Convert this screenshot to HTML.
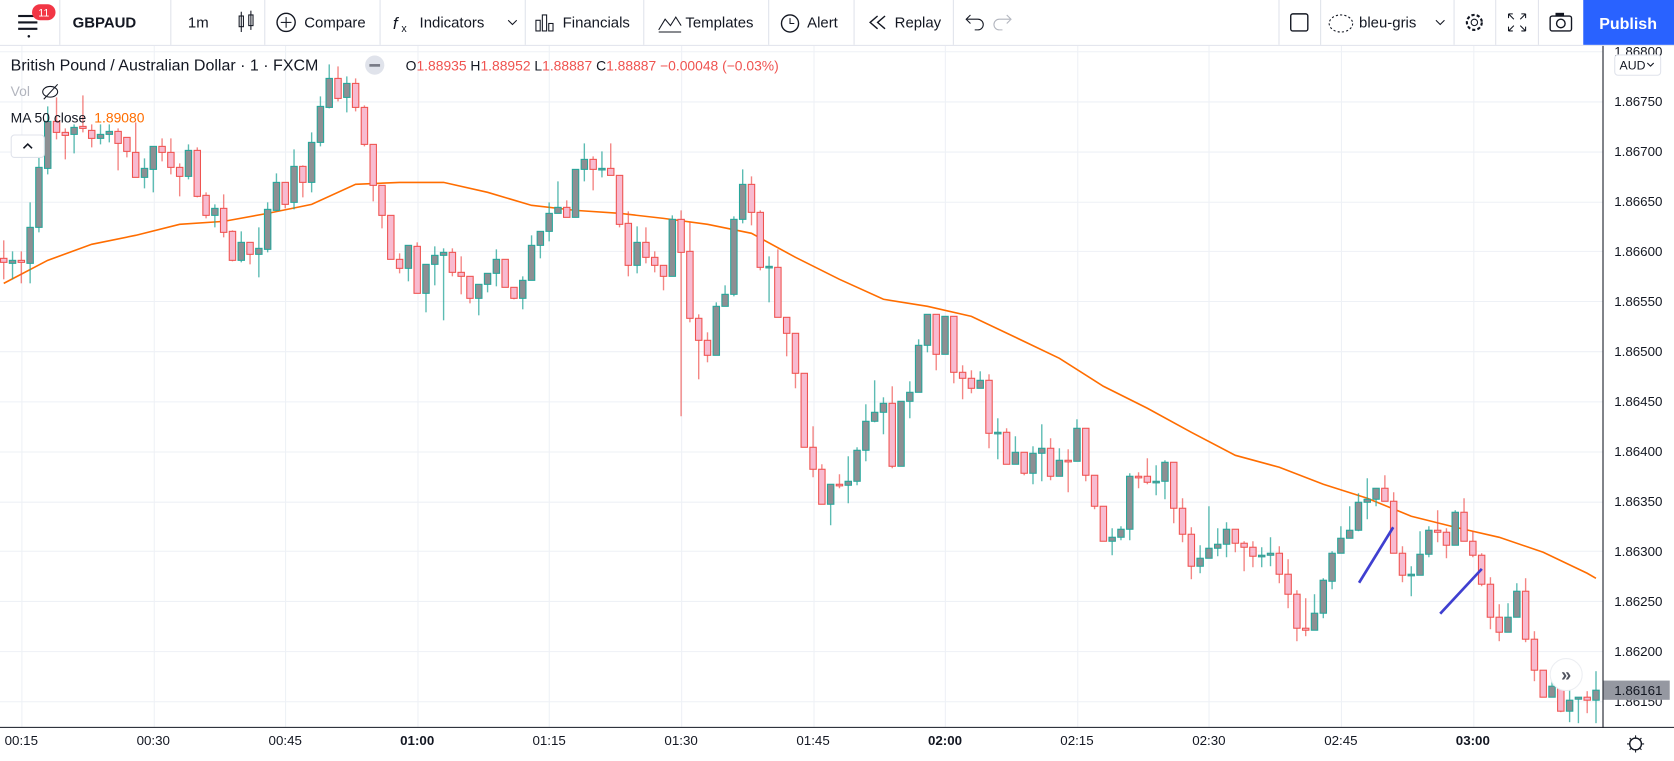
<!DOCTYPE html>
<html><head><meta charset="utf-8"><title>GBPAUD chart</title>
<style>
html,body{margin:0;padding:0;background:#fff;overflow:hidden}
svg{display:block}
text{font-family:"Liberation Sans",Arial,sans-serif}
</style></head>
<body>
<svg id="root" width="1674" height="761" viewBox="0 0 1568 713" preserveAspectRatio="none" xmlns="http://www.w3.org/2000/svg">
<rect x="0" y="0" width="1568" height="713" fill="#fff"/>
<g id="grid"></g>
<g id="ma"></g>
<g id="candles"></g>
<g>
<line x1="1273" y1="546" x2="1305" y2="494" stroke="#3f3fd0" stroke-width="2.5"/>
<line x1="1349" y1="575" x2="1388" y2="533" stroke="#3f3fd0" stroke-width="2.5"/>
</g>
<!-- toolbar -->
<g>
<rect x="0" y="0" width="1568" height="42" fill="#fff"/>
<line x1="0" y1="42.5" x2="1568" y2="42.5" stroke="#e0e3eb"/>
<g><rect x="17" y="14" width="18" height="2" fill="#131722"/><rect x="17" y="20" width="18" height="2" fill="#131722"/><rect x="17" y="26" width="18" height="2" fill="#131722"/><circle cx="27" cy="34" r="1.2" fill="#131722"/><rect x="30" y="4" width="22" height="15" rx="7.5" fill="#f23645"/><text x="41" y="15.5" font-size="10" fill="#fff" text-anchor="middle">11</text></g>
<line x1="56" y1="0" x2="56" y2="42" stroke="#e0e3eb"/>
<text x="68" y="26" font-size="14" font-weight="bold" fill="#131722">GBPAUD</text>
<line x1="160" y1="0" x2="160" y2="42" stroke="#e0e3eb"/>
<text x="176" y="26" font-size="14" fill="#131722">1m</text>
<g stroke="#131722" fill="none"><rect x="224" y="15" width="4" height="10"/><line x1="226" y1="11" x2="226" y2="30"/><rect x="233" y="14" width="4" height="10"/><line x1="235" y1="10" x2="235" y2="28"/></g>
<line x1="248" y1="0" x2="248" y2="42" stroke="#e0e3eb"/>
<g><circle cx="268" cy="21" r="8.5" fill="none" stroke="#131722" stroke-width="1.3"/><line x1="263" y1="21" x2="273" y2="21" stroke="#131722"/><line x1="268" y1="16" x2="268" y2="26" stroke="#131722"/><text x="285" y="26" font-size="14" fill="#131722">Compare</text></g>
<line x1="356" y1="0" x2="356" y2="42" stroke="#e0e3eb"/>
<g><text x="368" y="27" font-size="16" font-style="italic" fill="#131722">f</text><text x="376" y="30" font-size="10" fill="#131722">x</text><text x="393" y="26" font-size="14" fill="#131722">Indicators</text><path d="M476 19 l4 4 l4 -4" fill="none" stroke="#131722"/></g>
<line x1="492" y1="0" x2="492" y2="42" stroke="#e0e3eb"/>
<g><g fill="none" stroke="#131722"><rect x="502" y="19" width="4" height="10"/><rect x="508" y="14" width="4" height="15"/><rect x="514" y="22" width="4" height="7"/></g><text x="527" y="26" font-size="14" fill="#131722">Financials</text></g>
<line x1="603" y1="0" x2="603" y2="42" stroke="#e0e3eb"/>
<g><path d="M617 28 l6 -10 l5 6 l5 -8 l5 8" fill="none" stroke="#131722"/><line x1="617" y1="30" x2="638" y2="30" stroke="#131722"/><text x="642" y="26" font-size="14" fill="#131722">Templates</text></g>
<line x1="720" y1="0" x2="720" y2="42" stroke="#e0e3eb"/>
<g><circle cx="740" cy="22" r="8" fill="none" stroke="#131722" stroke-width="1.3"/><path d="M740 17 v5 h4" fill="none" stroke="#131722"/><text x="756" y="26" font-size="14" fill="#131722">Alert</text></g>
<line x1="800" y1="0" x2="800" y2="42" stroke="#e0e3eb"/>
<g><path d="M822 15 l-7 6 l7 6 M829 15 l-7 6 l7 6" fill="none" stroke="#131722" stroke-width="1.3"/><text x="838" y="26" font-size="14" fill="#131722">Replay</text></g>
<line x1="893" y1="0" x2="893" y2="42" stroke="#e0e3eb"/>
<path d="M906 18 h10 a5 5 0 0 1 0 10 h-3 M909 14 l-4 4 l4 4" fill="none" stroke="#131722"/>
<path d="M946 18 h-10 a5 5 0 0 0 0 10 h3 M943 14 l4 4 l-4 4" fill="none" stroke="#b2b5be"/>
<line x1="1198" y1="0" x2="1198" y2="42" stroke="#e0e3eb"/>
<rect x="1209" y="13" width="16" height="16" rx="2" fill="none" stroke="#131722" stroke-width="1.3"/>
<line x1="1237" y1="0" x2="1237" y2="42" stroke="#e0e3eb"/>
<g><ellipse cx="1256" cy="22" rx="11" ry="8" fill="none" stroke="#131722" stroke-dasharray="2 2"/><text x="1273" y="26" font-size="14" fill="#131722">bleu-gris</text><path d="M1345 19 l4 4 l4 -4" fill="none" stroke="#131722"/></g>
<line x1="1362" y1="0" x2="1362" y2="42" stroke="#e0e3eb"/>
<g><circle cx="1381" cy="21" r="7" fill="none" stroke="#131722" stroke-width="2" stroke-dasharray="3 2"/><circle cx="1381" cy="21" r="3" fill="none" stroke="#131722"/></g>
<line x1="1401" y1="0" x2="1401" y2="42" stroke="#e0e3eb"/>
<path d="M1413 13 l5 5 M1413 13 h4 M1413 13 v4 M1429 13 l-5 5 M1429 13 h-4 M1429 13 v4 M1413 29 l5 -5 M1413 29 h4 M1413 29 v-4 M1429 29 l-5 -5 M1429 29 h-4 M1429 29 v-4" stroke="#131722" fill="none"/>
<line x1="1441" y1="0" x2="1441" y2="42" stroke="#e0e3eb"/>
<g><rect x="1452" y="15" width="20" height="14" rx="2" fill="none" stroke="#131722" stroke-width="1.3"/><rect x="1457" y="12" width="8" height="3" fill="#131722"/><circle cx="1462" cy="22" r="4" fill="none" stroke="#131722" stroke-width="1.3"/></g>
<g><rect x="1483" y="0" width="85" height="42" fill="#2962ff"/><text x="1525" y="27" font-size="15" font-weight="bold" fill="#fff" text-anchor="middle">Publish</text></g>
</g>
<!-- legend -->
<g>
<text x="10" y="66" font-size="15" fill="#131722">British Pound / Australian Dollar · 1 · FXCM</text>
<circle cx="351" cy="61" r="9" fill="#e0e3eb"/><rect x="346" y="60" width="10" height="2.5" fill="#787b86"/>
<text x="380" y="66" font-size="13" fill="#ef5350"><tspan fill="#131722">O</tspan>1.88935 <tspan fill="#131722">H</tspan>1.88952 <tspan fill="#131722">L</tspan>1.88887 <tspan fill="#131722">C</tspan>1.88887 −0.00048 (−0.03%)</text>
<text x="10" y="90" font-size="13" fill="#b2b5be">Vol</text>
<g><ellipse cx="47" cy="86" rx="7" ry="5" fill="none" stroke="#131722"/><line x1="41" y1="93" x2="54" y2="79" stroke="#131722"/></g>
<text x="10" y="115" font-size="13" fill="#131722">MA 50 close <tspan fill="#ff6d00" dx="4">1.89080</tspan></text>
<g><rect x="10.5" y="126.5" width="31" height="21" rx="3" fill="#fff" stroke="#e0e3eb"/><path d="M22 139 l4 -4 l4 4" fill="none" stroke="#131722" stroke-width="1.5"/></g>
</g>
<!-- axes -->
<g id="yaxis">
<rect x="1501" y="43" width="67" height="638" fill="#fff"/>
<line x1="1501.5" y1="43" x2="1501.5" y2="713" stroke="#131722" stroke-width="1"/>
</g>
<g id="xaxis">
<rect x="0" y="682" width="1568" height="31" fill="#fff"/>
<line x1="0" y1="681.5" x2="1568" y2="681.5" stroke="#131722" stroke-width="1"/>
</g>
<g><rect x="1512.5" y="51.5" width="43" height="19" rx="3" fill="#fff" stroke="#e0e3eb"/><text x="1517" y="65" font-size="11.5" fill="#131722">AUD</text><path d="M1543 59 l3 3 l3 -3" fill="none" stroke="#131722"/></g>
<g id="lastprice"></g>
<g><circle cx="1467" cy="632" r="15" fill="#fff" stroke="#eceef2"/><text x="1467" y="638" font-size="17" font-weight="bold" fill="#50535e" text-anchor="middle">»</text></g>
<g><circle cx="1532" cy="697" r="5.5" fill="none" stroke="#131722" stroke-width="1.3"/><path d="M1532 689 v3 M1532 702 v3 M1524 697 h3 M1537 697 h3 M1526.5 691.5 l2 2 M1535.5 700.5 l2 2 M1537.5 691.5 l-2 2 M1528.5 700.5 l-2 2" stroke="#131722"/></g>
</svg>
<script>
const opens=[1.86593,1.86588,1.86591,1.86588,1.86624,1.86683,1.86730,1.86719,1.86717,1.86725,1.86721,1.86713,1.86717,1.86720,1.86714,1.86699,1.86674,1.86682,1.86705,1.86699,1.86684,1.86675,1.86701,1.86656,1.86636,1.86643,1.86620,1.86591,1.86609,1.86597,1.86602,1.86641,1.86669,1.86649,1.86685,1.86669,1.86709,1.86744,1.86773,1.86754,1.86768,1.86744,1.86707,1.86666,1.86636,1.86592,1.86583,1.86605,1.86558,1.86587,1.86596,1.86599,1.86579,1.86575,1.86553,1.86567,1.86578,1.86592,1.86564,1.86553,1.86571,1.86606,1.86620,1.86638,1.86644,1.86634,1.86682,1.86692,1.86682,1.86683,1.86676,1.86628,1.86586,1.86609,1.86594,1.86586,1.86575,1.86632,1.86600,1.86533,1.86511,1.86496,1.86545,1.86557,1.86632,1.86667,1.86639,1.86584,1.86584,1.86534,1.86518,1.86478,1.86404,1.86382,1.86347,1.86367,1.86366,1.86370,1.86401,1.86430,1.86439,1.86448,1.86385,1.86450,1.86459,1.86506,1.86537,1.86497,1.86535,1.86479,1.86473,1.86463,1.86471,1.86418,1.86419,1.86387,1.86399,1.86378,1.86398,1.86403,1.86375,1.86391,1.86390,1.86423,1.86376,1.86345,1.86310,1.86314,1.86322,1.86375,1.86375,1.86369,1.86370,1.86389,1.86343,1.86317,1.86285,1.86293,1.86303,1.86307,1.86322,1.86308,1.86304,1.86295,1.86296,1.86298,1.86277,1.86257,1.86223,1.86221,1.86238,1.86270,1.86298,1.86313,1.86321,1.86349,1.86352,1.86363,1.86350,1.86298,1.86276,1.86276,1.86297,1.86321,1.86319,1.86306,1.86339,1.86310,1.86296,1.86267,1.86234,1.86219,1.86234,1.86260,1.86212,1.86181,1.86154,1.86165,1.86140,1.86152,1.86154,1.86151];
const highs=[1.86611,1.86600,1.86600,1.86649,1.86713,1.86745,1.86754,1.86723,1.86727,1.86756,1.86727,1.86727,1.86727,1.86723,1.86714,1.86729,1.86693,1.86705,1.86713,1.86713,1.86688,1.86707,1.86704,1.86659,1.86647,1.86657,1.86621,1.86620,1.86609,1.86624,1.86649,1.86678,1.86669,1.86702,1.86686,1.86719,1.86755,1.86787,1.86785,1.86775,1.86773,1.86746,1.86707,1.86666,1.86636,1.86598,1.86606,1.86609,1.86587,1.86605,1.86603,1.86603,1.86595,1.86575,1.86567,1.86578,1.86602,1.86592,1.86564,1.86575,1.86616,1.86620,1.86649,1.86670,1.86651,1.86682,1.86708,1.86695,1.86700,1.86708,1.86676,1.86640,1.86625,1.86624,1.86600,1.86586,1.86636,1.86641,1.86629,1.86537,1.86519,1.86549,1.86566,1.86635,1.86682,1.86675,1.86641,1.86595,1.86602,1.86534,1.86518,1.86478,1.86425,1.86387,1.86367,1.86377,1.86395,1.86404,1.86447,1.86471,1.86454,1.86465,1.86450,1.86470,1.86512,1.86537,1.86537,1.86535,1.86535,1.86486,1.86481,1.86480,1.86477,1.86433,1.86423,1.86415,1.86399,1.86405,1.86427,1.86413,1.86403,1.86402,1.86432,1.86423,1.86376,1.86345,1.86323,1.86325,1.86378,1.86379,1.86393,1.86386,1.86391,1.86389,1.86353,1.86324,1.86306,1.86345,1.86323,1.86329,1.86322,1.86310,1.86310,1.86304,1.86314,1.86305,1.86292,1.86261,1.86253,1.86257,1.86273,1.86300,1.86325,1.86345,1.86358,1.86373,1.86363,1.86376,1.86359,1.86305,1.86285,1.86320,1.86325,1.86341,1.86323,1.86341,1.86353,1.86320,1.86298,1.86274,1.86247,1.86248,1.86268,1.86273,1.86220,1.86181,1.86176,1.86168,1.86166,1.86154,1.86160,1.86180];
const lows=[1.86572,1.86572,1.86568,1.86568,1.86619,1.86677,1.86712,1.86692,1.86698,1.86719,1.86704,1.86707,1.86709,1.86681,1.86694,1.86674,1.86663,1.86659,1.86690,1.86677,1.86655,1.86672,1.86654,1.86633,1.86624,1.86614,1.86590,1.86589,1.86587,1.86574,1.86599,1.86640,1.86643,1.86642,1.86654,1.86659,1.86705,1.86743,1.86750,1.86739,1.86740,1.86705,1.86650,1.86623,1.86592,1.86578,1.86570,1.86558,1.86539,1.86566,1.86531,1.86575,1.86557,1.86548,1.86536,1.86559,1.86565,1.86564,1.86552,1.86542,1.86571,1.86593,1.86610,1.86638,1.86634,1.86634,1.86670,1.86661,1.86674,1.86676,1.86624,1.86575,1.86578,1.86588,1.86579,1.86561,1.86575,1.86435,1.86529,1.86472,1.86489,1.86496,1.86545,1.86555,1.86628,1.86626,1.86581,1.86549,1.86534,1.86495,1.86463,1.86404,1.86374,1.86347,1.86326,1.86363,1.86348,1.86366,1.86390,1.86429,1.86417,1.86383,1.86385,1.86433,1.86502,1.86499,1.86481,1.86497,1.86468,1.86452,1.86458,1.86463,1.86403,1.86392,1.86387,1.86387,1.86376,1.86367,1.86370,1.86371,1.86375,1.86359,1.86390,1.86370,1.86342,1.86310,1.86296,1.86311,1.86311,1.86363,1.86367,1.86356,1.86352,1.86328,1.86309,1.86272,1.86278,1.86293,1.86295,1.86294,1.86299,1.86280,1.86284,1.86284,1.86285,1.86268,1.86243,1.86210,1.86215,1.86221,1.86233,1.86262,1.86298,1.86313,1.86320,1.86332,1.86345,1.86350,1.86298,1.86269,1.86255,1.86276,1.86294,1.86309,1.86293,1.86306,1.86310,1.86294,1.86265,1.86222,1.86210,1.86219,1.86234,1.86209,1.86170,1.86154,1.86154,1.86139,1.86129,1.86128,1.86138,1.86128];
const closes=[1.86589,1.86591,1.86589,1.86624,1.86684,1.86730,1.86719,1.86716,1.86724,1.86723,1.86713,1.86717,1.86720,1.86708,1.86700,1.86674,1.86683,1.86705,1.86699,1.86684,1.86675,1.86701,1.86655,1.86636,1.86643,1.86619,1.86591,1.86609,1.86597,1.86603,1.86642,1.86669,1.86647,1.86685,1.86669,1.86709,1.86745,1.86773,1.86753,1.86768,1.86744,1.86707,1.86666,1.86636,1.86592,1.86583,1.86606,1.86558,1.86587,1.86596,1.86599,1.86579,1.86575,1.86553,1.86567,1.86578,1.86592,1.86564,1.86553,1.86571,1.86606,1.86620,1.86638,1.86644,1.86634,1.86682,1.86692,1.86682,1.86683,1.86676,1.86627,1.86586,1.86609,1.86594,1.86586,1.86575,1.86632,1.86599,1.86533,1.86511,1.86496,1.86545,1.86557,1.86632,1.86667,1.86639,1.86584,1.86585,1.86534,1.86518,1.86478,1.86404,1.86382,1.86347,1.86367,1.86366,1.86370,1.86401,1.86430,1.86439,1.86448,1.86385,1.86450,1.86459,1.86506,1.86537,1.86497,1.86535,1.86479,1.86473,1.86463,1.86471,1.86418,1.86419,1.86387,1.86399,1.86378,1.86398,1.86403,1.86375,1.86391,1.86390,1.86423,1.86376,1.86345,1.86310,1.86314,1.86322,1.86375,1.86374,1.86369,1.86370,1.86389,1.86343,1.86317,1.86285,1.86293,1.86303,1.86307,1.86322,1.86308,1.86304,1.86295,1.86296,1.86298,1.86277,1.86257,1.86223,1.86221,1.86238,1.86271,1.86298,1.86313,1.86321,1.86349,1.86352,1.86363,1.86350,1.86298,1.86276,1.86277,1.86297,1.86321,1.86319,1.86306,1.86339,1.86310,1.86296,1.86267,1.86234,1.86219,1.86234,1.86260,1.86212,1.86181,1.86154,1.86165,1.86140,1.86151,1.86154,1.86151,1.86161];
const maIndex=[0,5,10,15,20,25,30,35,40,45,50,55,60,65,70,75,80,85,90,95,100,105,110,115,120,125,130,135,140,145,150,155,160,165,170,175,180,181];
const maValues=[1.86568,1.86591,1.86607,1.86616,1.86627,1.86630,1.86638,1.86647,1.86667,1.86669,1.86669,1.86659,1.86646,1.86641,1.86638,1.86633,1.86627,1.86618,1.86594,1.86572,1.86552,1.86545,1.86535,1.86514,1.86493,1.86465,1.86443,1.86419,1.86396,1.86384,1.86367,1.86353,1.86335,1.86324,1.86314,1.86299,1.86278,1.86273];
const priceTicks=[1.8680,1.8675,1.8670,1.8665,1.8660,1.8655,1.8650,1.8645,1.8640,1.8635,1.8630,1.8625,1.8620,1.8615];
const timeLabels=["00:15","00:30","00:45","01:00","01:15","01:30","01:45","02:00","02:15","02:30","02:45","03:00"];
const timeIndex=[2,17,32,47,62,77,92,107,122,137,152,167];
const lastPrice=1.86161;

const NS="http://www.w3.org/2000/svg";
function xS(i){return 3.5+8.24*i;}
function yS(p){return 95+(1.8675-p)*93660;}
function mk(tag,attrs,parent){const e=document.createElementNS(NS,tag);for(const k in attrs)e.setAttribute(k,attrs[k]);parent.appendChild(e);return e;}

const grid=document.getElementById('grid');
priceTicks.forEach(function(p){
  const y=Math.round(yS(p))+0.5;
  const l=mk('line',{x1:0,x2:1501,y1:y,y2:y,stroke:'#eef1f6'},grid);
  
  
});
timeIndex.forEach(function(i){
  const x=Math.round(xS(i))+0.5;
  const l=mk('line',{x1:x,x2:x,y1:43,y2:681,stroke:'#eef1f6'},grid);
  
  
});

const ma=document.getElementById('ma');
let d='';
maIndex.forEach(function(i,k){d+=(k?'L':'M')+xS(i).toFixed(1)+' '+yS(maValues[k]).toFixed(1);});
const maPath=mk('path',{d:d,fill:'none',stroke:'#ff6d00','stroke-width':1.5},ma);



const cg=document.getElementById('candles');
for(let i=0;i<opens.length;i++){
  const up=closes[i]>=opens[i];
  const x=xS(i);
  const g=mk('g',{},cg);
  
  
  mk('line',{x1:x,x2:x,y1:yS(highs[i]),y2:yS(lows[i]),stroke:up?'rgba(38,166,154,0.75)':'rgba(239,83,80,0.7)','stroke-width':1.3},g);
  const top=yS(Math.max(opens[i],closes[i]));
  const h=Math.max(1.5,yS(Math.min(opens[i],closes[i]))-top);
  mk('rect',{x:x-3,y:top,width:6,height:h,fill:up?'#8d8f93':'#f8bbd0',stroke:up?'#26a69a':'#ef5350','stroke-width':1},g);
}

const ya=document.getElementById('yaxis');
priceTicks.forEach(function(p){
  const t=mk('text',{x:1512,y:yS(p)+4.5,'font-size':12.5,fill:'#131722'},ya);
  t.textContent=p.toFixed(5);
  
  
});
const xa=document.getElementById('xaxis');
timeLabels.forEach(function(s,k){
  const bold=s.endsWith(':00');
  const t=mk('text',{x:xS(timeIndex[k]),y:698,'font-size':12.5,fill:'#131722','text-anchor':'middle','font-weight':bold?'bold':'normal'},xa);
  t.textContent=s;
  
  
});
const lp=document.getElementById('lastprice');
const ly=yS(lastPrice);
const lr=mk('rect',{x:1502,y:ly-9,width:62,height:18,fill:'#9598a1'},lp);


const lt=mk('text',{x:1512,y:ly+4.5,'font-size':12.5,fill:'#131722'},lp);
lt.textContent=lastPrice.toFixed(5);


</script>
</body></html>
